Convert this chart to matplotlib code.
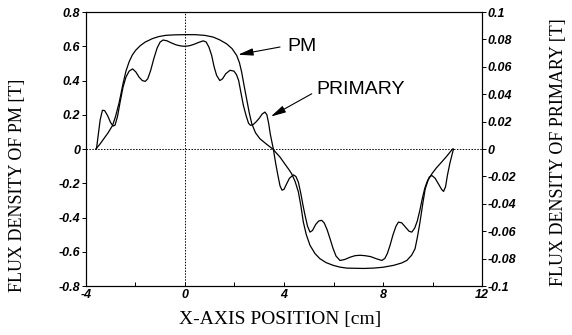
import numpy as np
import matplotlib
matplotlib.use("Agg")
import matplotlib.pyplot as plt

# PM flux density [T] (left axis)
pm_x = [-3.60, -3.45, -3.30, -3.10, -2.92, -2.80, -2.65, -2.50, -2.38, -2.25,
        -2.12, -1.98, -1.80, -1.60, -1.31, -1.05, -0.77, -0.40, 0.0, 0.40,
        0.80, 1.14, 1.40, 1.68, 1.90, 2.09, 2.20, 2.29, 2.39, 2.49,
        2.60, 2.70, 2.85, 3.03, 3.30, 3.55, 3.84, 4.05, 4.20, 4.31,
        4.45, 4.58, 4.68, 4.78, 4.90, 5.05, 5.25, 5.45, 5.70, 5.99,
        6.25, 6.53, 7.20, 7.61, 8.00, 8.42, 8.75, 8.96, 9.15, 9.29,
        9.39, 9.49, 9.60, 9.70, 9.82, 9.97, 10.15, 10.30, 10.55, 10.80]
pm_y = [0.0, 0.025, 0.055, 0.095, 0.138, 0.19, 0.274, 0.38, 0.455, 0.51,
        0.55, 0.578, 0.604, 0.625, 0.645, 0.657, 0.664, 0.667, 0.668, 0.668,
        0.664, 0.654, 0.638, 0.615, 0.587, 0.547, 0.505, 0.45, 0.37, 0.294,
        0.21, 0.148, 0.095, 0.06, 0.028, 0.0, -0.047, -0.09, -0.12, -0.144,
        -0.19, -0.25, -0.33, -0.426, -0.5, -0.562, -0.61, -0.64, -0.663, -0.679,
        -0.689, -0.695, -0.697, -0.695, -0.69, -0.679, -0.665, -0.65, -0.62, -0.582,
        -0.51, -0.426, -0.32, -0.232, -0.18, -0.144, -0.11, -0.086, -0.045, 0.0]

# PRIMARY flux density [T] (right axis)
pri_x = [-3.57, -3.50, -3.42, -3.33, -3.24, -3.12, -3.00, -2.90, -2.82, -2.72,
         -2.62, -2.50, -2.38, -2.25, -2.11, -1.98, -1.85, -1.72, -1.60, -1.50,
         -1.38, -1.25, -1.12, -1.00, -0.88, -0.72, -0.55, -0.36, -0.18, 0.0,
         0.18, 0.36, 0.55, 0.74, 0.86, 0.97, 1.08, 1.18, 1.28, 1.41,
         1.52, 1.65, 1.82, 1.98, 2.08, 2.17, 2.26, 2.36, 2.48, 2.57,
         2.65, 2.75, 2.87, 3.00, 3.12, 3.23, 3.31, 3.38, 3.45, 3.57,
         3.66, 3.75, 3.84, 3.92, 4.00, 4.10, 4.22, 4.38, 4.48, 4.58,
         4.68, 4.77, 4.85, 4.95, 5.05, 5.15, 5.28, 5.40, 5.52, 5.62,
         5.74, 5.86, 5.98, 6.10, 6.26, 6.45, 6.67, 6.87, 7.07, 7.27,
         7.50, 7.72, 7.95, 8.07, 8.17, 8.28, 8.40, 8.52, 8.62, 8.75,
         8.90, 9.05, 9.16, 9.28, 9.38, 9.48, 9.58, 9.68, 9.77, 9.87,
         9.97, 10.10, 10.24, 10.36, 10.44, 10.52, 10.60, 10.70, 10.84]
pri_y = [0.0, 0.010, 0.0213, 0.0283, 0.0281, 0.0244, 0.0194, 0.0168, 0.0175, 0.0238,
         0.0338, 0.045, 0.0525, 0.0569, 0.0585, 0.0563, 0.0525, 0.05, 0.0494, 0.0513,
         0.0575, 0.0663, 0.0738, 0.0781, 0.0796, 0.079, 0.0775, 0.0761, 0.0753, 0.075,
         0.0754, 0.0764, 0.0778, 0.079, 0.0781, 0.0744, 0.0684, 0.06, 0.0538, 0.05,
         0.0513, 0.055, 0.0575, 0.0569, 0.0544, 0.05, 0.0413, 0.0319, 0.0238, 0.0188,
         0.0173, 0.0178, 0.0198, 0.0225, 0.0256, 0.027, 0.025, 0.0188, 0.0106, 0.0,
         -0.010, -0.0188, -0.0269, -0.03, -0.0294, -0.0256, -0.0213, -0.0188, -0.02, -0.0241,
         -0.0325, -0.0413, -0.0484, -0.0563, -0.0606, -0.0594, -0.055, -0.0525, -0.052, -0.0538,
         -0.0588, -0.0655, -0.0725, -0.0781, -0.0813, -0.0806, -0.0789, -0.0778, -0.0775, -0.0778,
         -0.0785, -0.08, -0.0813, -0.0798, -0.0763, -0.0703, -0.0625, -0.0563, -0.0533, -0.0538,
         -0.0569, -0.06, -0.0606, -0.0575, -0.0525, -0.045, -0.0363, -0.0288, -0.0241, -0.0203,
         -0.0193, -0.0213, -0.0256, -0.0294, -0.0309, -0.0275, -0.0188, -0.010, 0.0]

x_ticks = [-4, 0, 4, 8, 12]
left_ticks = [0.8, 0.6, 0.4, 0.2, 0, -0.2, -0.4, -0.6, -0.8]
left_labels = ["0.8", "0.6", "0.4", "0.2", "0", "-0.2", "-0.4", "-0.6", "-0.8"]
right_ticks = [0.1, 0.08, 0.06, 0.04, 0.02, 0, -0.02, -0.04, -0.06, -0.08, -0.1]
right_labels = ["0.1", "0.08", "0.06", "0.04", "0.02", "0", "-0.02", "-0.04",
                "-0.06", "-0.08", "-0.1"]

tick_font = dict(family="Liberation Sans", style="italic", weight="bold", size=9)
label_font = dict(family="Liberation Serif", size=13)

fig = plt.figure(figsize=(5.72, 3.35), dpi=100)
ax = fig.add_axes([0.150, 0.146, 0.693, 0.818])
ax2 = ax.twinx()

ax.plot(pm_x, pm_y, color="black", lw=0.9)
ax2.plot(pri_x, pri_y, color="black", lw=0.9)

ax.axhline(0, color="black", lw=0.7, ls=(0, (1.5, 1.5)))
ax.axvline(0, color="black", lw=0.7, ls=(0, (1.5, 1.5)))

ax.set_xlim(-4, 12)
ax.set_ylim(-0.8, 0.8)
ax2.set_ylim(-0.1, 0.1)

ax.set_xticks(x_ticks)
ax.set_xticklabels([str(t) for t in x_ticks], fontdict=tick_font)
ax.set_xticks([-2, 2, 6, 10], minor=True)
ax.set_yticks(left_ticks)
ax.set_yticklabels(left_labels, fontdict=tick_font)
ax2.set_yticks(right_ticks)
ax2.set_yticklabels(right_labels, fontdict=tick_font)

ax.tick_params(axis="x", which="both", direction="in", length=3, width=0.7, pad=2)
ax.tick_params(axis="y", direction="out", length=3, width=0.7, pad=1)
ax2.tick_params(axis="y", direction="out", length=3, width=0.7, pad=1)

for a in (ax, ax2):
    for s in a.spines.values():
        s.set_linewidth(0.8)

ax.set_xlabel("X-AXIS POSITION [cm]", fontdict=dict(family="Liberation Serif", size=14))
ax.xaxis.set_label_coords(0.49, -0.09)
ax.set_ylabel("FLUX DENSITY OF PM [T]", fontdict=label_font)
ax.yaxis.set_label_coords(-0.15, 0.369)
ax2.set_ylabel("FLUX DENSITY OF PRIMARY [T]", fontdict=label_font)
ax2.yaxis.set_label_coords(1.17, 0.489)

arrow = dict(arrowstyle="-|>,head_length=0.9,head_width=0.22", color="black", lw=0.8,
             shrinkA=0, shrinkB=0)
ax.annotate("", xy=(2.15, 0.551), xytext=(3.84, 0.596), arrowprops=arrow)
ax.text(4.15, 0.596, "PM", family="Liberation Sans", size=14, va="center", ha="left")
ax.annotate("", xy=(3.47, 0.19), xytext=(5.12, 0.323), arrowprops=arrow)
ax.text(5.3, 0.345, "PRIMARY", family="Liberation Sans", size=14, va="center", ha="left")

fig.savefig("out.png", dpi=100)
